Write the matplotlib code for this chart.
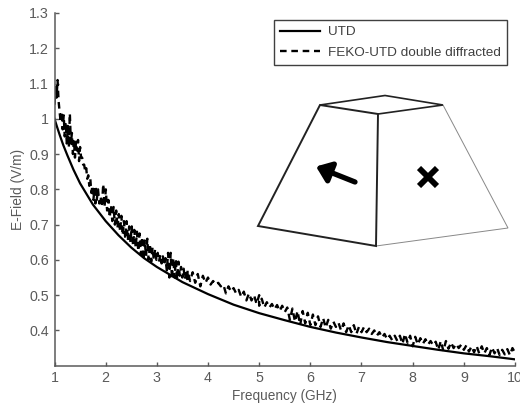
import matplotlib
matplotlib.use('Agg')
import matplotlib.pyplot as plt
import numpy as np
from matplotlib.patches import Polygon

W, H = 520, 407
GRAY = '#5a5a5a'

utd_freq = [1, 1.05, 1.1, 1.17, 1.25, 1.37, 1.5, 1.75, 2, 2.25, 2.5, 2.75, 3, 3.5, 4, 4.5, 5, 5.5,
            6, 6.5, 7, 7.5, 8, 8.5, 9, 9.5, 10]
utd_val = [1.0, 0.977, 0.955, 0.926, 0.897, 0.856, 0.817, 0.757, 0.71, 0.67, 0.635, 0.605, 0.58, 0.537,
           0.503, 0.473, 0.449, 0.429, 0.41, 0.394, 0.38, 0.367, 0.356, 0.345, 0.335, 0.327, 0.318]

# Simulated curve, read section by section off the picture
feko_low = [1.04, 1.09, 1.06, 1.11, 1.05, 1.02, 0.99, 1.02, 0.97, 1.01, 0.95, 0.99, 0.93, 0.98, 0.92, 1.015, 0.93, 0.96,
            0.90, 0.94, 0.89, 0.935, 0.91, 0.94, 0.88, 0.92, 0.89, 0.89, 0.87, 0.87, 0.85, 0.86, 0.83, 0.84, 0.81, 0.83,
            0.79, 0.81, 0.77, 0.80, 0.76]
feko_mid = [0.81, 0.77, 0.80, 0.76, 0.78, 0.75, 0.815, 0.75, 0.80, 0.74, 0.77, 0.72, 0.755, 0.71, 0.75, 0.70, 0.74, 0.69,
            0.73, 0.68, 0.725, 0.67, 0.71, 0.66, 0.71, 0.655, 0.695, 0.65, 0.695, 0.64, 0.685, 0.635, 0.68, 0.625, 0.675, 0.615,
            0.665, 0.60, 0.655, 0.61, 0.66, 0.60, 0.645, 0.595, 0.635, 0.60, 0.63, 0.60, 0.62, 0.595, 0.615, 0.59, 0.61, 0.585,
            0.605, 0.57, 0.62, 0.55, 0.62, 0.545, 0.605, 0.55, 0.60, 0.545, 0.595, 0.555, 0.58, 0.55, 0.575, 0.545, 0.57, 0.54]
feko_upper = [0.57, 0.54, 0.565, 0.535, 0.56, 0.525, 0.555, 0.535, 0.55, 0.53, 0.54, 0.53, 0.535, 0.525, 0.53, 0.505,
              0.525, 0.51, 0.52, 0.505, 0.515, 0.495, 0.51, 0.485, 0.505, 0.485, 0.50, 0.475, 0.50]
feko_high = [0.47, 0.49, 0.465, 0.48, 0.465, 0.475, 0.46, 0.472, 0.455, 0.47, 0.452, 0.465, 0.43, 0.462, 0.425, 0.455,
             0.415, 0.455, 0.42, 0.45, 0.415, 0.445, 0.415, 0.44, 0.41, 0.435, 0.408, 0.43, 0.405, 0.425, 0.41, 0.422,
             0.40, 0.42, 0.395, 0.415, 0.395, 0.415, 0.39, 0.41, 0.395, 0.41, 0.395, 0.405, 0.39, 0.40, 0.385, 0.395,
             0.38, 0.39, 0.375, 0.385, 0.372, 0.385, 0.37, 0.385, 0.362, 0.39, 0.365, 0.385, 0.355, 0.382, 0.36, 0.378,
             0.362, 0.375, 0.36, 0.37, 0.358, 0.368, 0.345, 0.37, 0.342, 0.37, 0.348, 0.366, 0.35, 0.362, 0.35, 0.36,
             0.345, 0.358, 0.34, 0.355, 0.338, 0.356, 0.335, 0.355, 0.335, 0.35, 0.33, 0.352, 0.335, 0.35, 0.33, 0.345,
             0.332, 0.347, 0.33, 0.35, 0.337]

feko_freq = np.concatenate([
    np.linspace(1.0, 1.8, len(feko_low)),
    np.linspace(1.8, 3.6, len(feko_mid)),
    np.linspace(3.6, 5.0, len(feko_upper)),
    np.linspace(5.0, 10.0, len(feko_high)),
])
feko_val = feko_low + feko_mid + feko_upper + feko_high

x_ticks = [1, 2, 3, 4, 5, 6, 7, 8, 9, 10]
y_ticks = [0.4, 0.5, 0.6, 0.7, 0.8, 0.9, 1.0, 1.1, 1.2, 1.3]
y_labels = ['0.4', '0.5', '0.6', '0.7', '0.8', '0.9', '1', '1.1', '1.2', '1.3']

# Inset diagram outline, in image pixels
pyr_left_face = [(320, 105), (378, 114), (376, 246), (258, 226)]
pyr_top_edges = [(320, 105), (385, 95.5), (443, 105), (378, 114)]
pyr_right_face = [(443, 105), (508, 228), (376, 246)]
pyr_arrow = [(355, 182), (316, 166.5)]
pyr_cross = (428, 177)

plt.rcParams['font.family'] = ['Liberation Sans', 'DejaVu Sans']
fig = plt.figure(figsize=(W / 100, H / 100), dpi=100)
ax = fig.add_axes([54.5 / W, 1 - 365.7 / H, (515 - 54.5) / W, (365.7 - 13) / H])

ax.plot(utd_freq, utd_val, color='black', lw=1.6, label='UTD')
ax.plot(feko_freq, feko_val, color='black', lw=1.7, dashes=(2.8, 2.0), label='FEKO-UTD double diffracted')
ax.set_xlim(1, 10)
ax.set_ylim(0.3, 1.3)
ax.set_xticks(x_ticks)
ax.set_yticks(y_ticks)
ax.set_yticklabels(y_labels)
ax.tick_params(direction='in', length=3, width=1, color=GRAY, labelcolor=GRAY, labelsize=10.3, pad=4)
for side in ('top', 'right'):
    ax.spines[side].set_visible(False)
for side in ('left', 'bottom'):
    ax.spines[side].set_color(GRAY)
    ax.spines[side].set_linewidth(1.1)
ax.set_xlabel('Frequency (GHz)', color=GRAY, fontsize=9.8, labelpad=2.5)
ax.set_ylabel('E-Field (V/m)', color=GRAY, fontsize=9.9, labelpad=3)

leg = ax.legend(loc='upper left', bbox_to_anchor=(274 / W, 1 - 20 / H), bbox_transform=fig.transFigure,
                fancybox=False, framealpha=1, edgecolor='#404040', borderaxespad=0, fontsize=9.7,
                handlelength=3.0, handletextpad=0.55, labelspacing=0.6, borderpad=0.45)
leg.get_frame().set_linewidth(1)
for t in leg.get_texts():
    t.set_color('#404040')

ov = fig.add_axes([0, 0, 1, 1], facecolor='none')
ov.set_xlim(0, W)
ov.set_ylim(H, 0)
ov.axis('off')
ov.add_patch(Polygon(pyr_right_face, closed=False, fill=False, ec='#888888', lw=0.7))
ov.add_patch(Polygon(pyr_left_face, closed=True, fill=False, ec='#222222', lw=1.4))
ov.add_patch(Polygon(pyr_top_edges, closed=False, fill=False, ec='#222222', lw=1.2))
ov.annotate('', xy=pyr_arrow[1], xytext=pyr_arrow[0],
            arrowprops=dict(arrowstyle='-|>,head_length=0.85,head_width=0.65', color='black', lw=3.8, shrinkA=0, shrinkB=0))
ov.plot(*pyr_cross, marker='x', color='black', ms=13, mew=4.2)

fig.savefig('out.png', dpi=100)
